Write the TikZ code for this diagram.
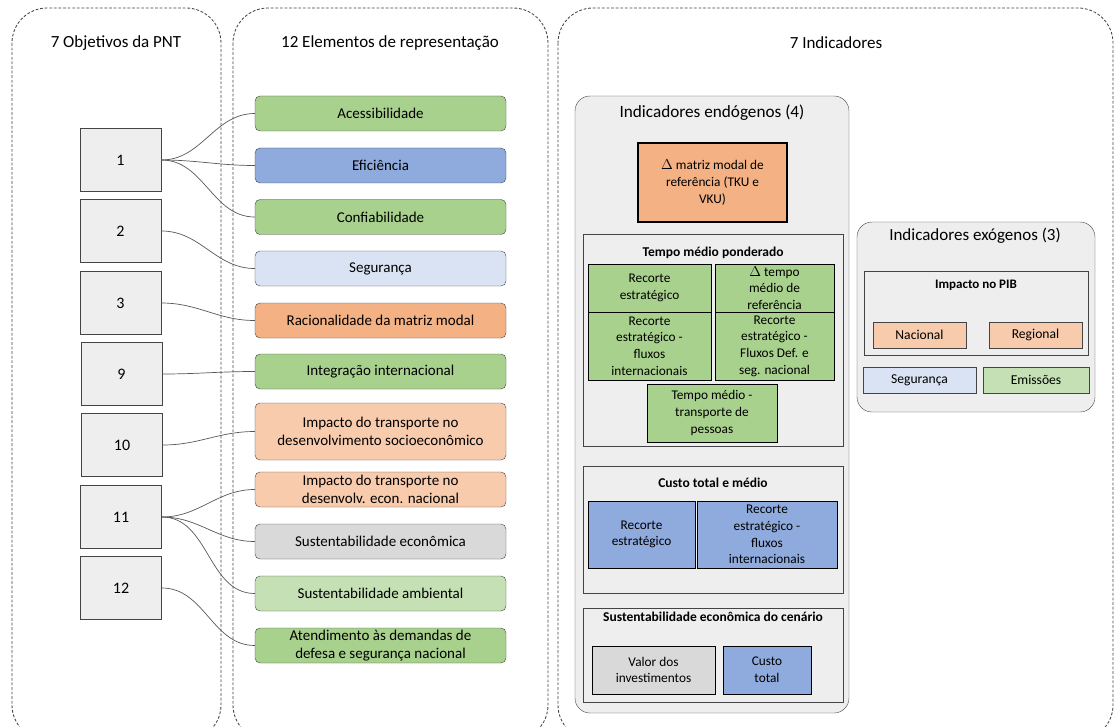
\documentclass[tikz,border=0pt]{standalone}
\usepackage{fontspec}
\setmainfont{Carlito}
\usetikzlibrary{positioning}
\definecolor{verde}{HTML}{A9D18E}
\definecolor{verdeclaro}{HTML}{C5E0B4}
\definecolor{azul}{HTML}{8FAADC}
\definecolor{azulclaro}{HTML}{DAE3F3}
\definecolor{laranja}{HTML}{F4B183}
\definecolor{laranjaclaro}{HTML}{F8CBAD}
\definecolor{cinza}{HTML}{D9D9D9}
\definecolor{painel}{HTML}{EEEEEE}
\definecolor{borda}{HTML}{444444}
\tikzset{
  grupo/.style={draw=borda, line width=0.85pt, dash pattern=on 2.8pt off 1.8pt, rounded corners=35pt},
  titulo/.style={font=\fontsize{17}{20}\selectfont},
  objbox/.style={draw=borda, fill=painel, line width=0.9pt, minimum width=81pt,
    minimum height=63pt, font=\fontsize{16}{19}\selectfont},
  elem/.style={draw=borda, rounded corners=5pt, minimum width=251pt, minimum height=35pt,
    inner sep=0pt, align=center, font=\fontsize{15}{18}\selectfont},
  painelbox/.style={draw=borda, fill=painel, rounded corners=15pt},
  quadro/.style={draw=borda, fill=painel},
  quadrotit/.style={font=\bfseries\fontsize{13.5}{16}\selectfont},
  cell/.style={draw=black, inner sep=0pt, align=center, font=\fontsize{13.3}{16.7}\selectfont},
  exo/.style={draw=borda, inner sep=0pt, minimum height=26pt, font=\fontsize{13.6}{16}\selectfont},
  link/.style={draw=borda!90, line width=0.7pt}
}
\begin{document}
\begin{tikzpicture}[x=1pt,y=-1pt]
  \useasboundingbox (0,0) rectangle (1115,727);
  \draw[grupo] (12,8) rectangle (221,740);
  \draw[grupo] (233,8) rectangle (548,740);
  \draw[grupo] (558,8) rectangle (1113,740);
  \node[titulo] (t1) at (116,43) {7 Objetivos da PNT};
  \node[titulo] (t2) at (390,43) {12 Elementos de representação};
  \node[titulo] (t3) at (836,43) {7 Indicadores};

  \node[objbox] (o1) at (120.5,160) {1};
  \node[objbox] (o2) at (120.5,231) {2};
  \node[objbox] (o3) at (120.5,303) {3};
  \node[objbox] (o9) at (121.5,374) {9};
  \node[objbox] (o10) at (122,445) {10};
  \node[objbox] (o11) at (121,517) {11};
  \node[objbox] (o12) at (121,588) {12};

  \node[elem, fill=verde] (e1) at (380.5,113.5) {Acessibilidade};
  \node[elem, fill=azul] (e2) at (380.5,165.5) {Eficiência};
  \node[elem, fill=verde] (e3) at (380.5,217) {Confiabilidade};
  \node[elem, fill=azulclaro] (e4) at (380.5,268.5) {Segurança};
  \node[elem, fill=laranja] (e5) at (380.5,320.5) {Racionalidade da matriz modal};
  \node[elem, fill=verde] (e6) at (380.5,371.5) {Integração internacional};
  \node[elem, fill=laranjaclaro, minimum height=57pt] (e7) at (380.5,431.5)
    {Impacto do transporte no\\desenvolvimento socioeconômico};
  \node[elem, fill=laranjaclaro] (e8) at (380.5,489.5)
    {Impacto do transporte no\\desenvolv. econ. nacional};
  \node[elem, fill=cinza] (e9) at (380.5,541.5) {Sustentabilidade econômica};
  \node[elem, fill=verdeclaro] (e10) at (380.5,593.5) {Sustentabilidade ambiental};
  \node[elem, fill=verde] (e11) at (380.5,645.5)
    {Atendimento às demandas de\\defesa e segurança nacional};

  \foreach \a/\b in {o1/e1,o1/e2,o1/e3,o2/e4,o3/e5,o9/e6,o10/e7,o11/e8,o11/e9,o11/e10,o12/e11}
    \draw[link] (\a.east) to[out=0,in=180] (\b.west);

  \node[painelbox, minimum width=274pt, minimum height=617pt] (endo) at (712,404.5) {};
  \node[font=\fontsize{17.2}{21}\selectfont] (endotit) at (712,113) {Indicadores endógenos (4)};
  \node[cell, fill=laranja, line width=1.4pt, minimum width=149pt, minimum height=79pt]
    (delta) at (712.5,182.5) {$\Delta$ matriz modal de\\referência (TKU e\\VKU)};

  \node[quadro, minimum width=260pt, minimum height=212pt] (tempo) at (713,340) {};
  \node[quadrotit] (tempotit) at (713,253) {Tempo médio ponderado};
  \node[cell, fill=verde, minimum width=123pt, minimum height=48pt] (c1) at (649.5,288)
    {Recorte\\estratégico};
  \node[cell, fill=verde, minimum width=119pt, minimum height=48pt] (c2) at (774.5,288)
    {$\Delta$ tempo\\médio de\\referência};
  \node[cell, fill=verde, minimum width=123pt, minimum height=68pt] (c3) at (649.5,346)
    {Recorte\\estratégico -\\fluxos\\internacionais};
  \node[cell, fill=verde, minimum width=119pt, minimum height=68pt] (c4) at (774.5,346)
    {Recorte\\estratégico -\\Fluxos Def. e\\seg. nacional};
  \node[cell, fill=verde, minimum width=130pt, minimum height=58pt] (c5) at (712,413)
    {Tempo médio -\\transporte de\\pessoas};

  \node[quadro, minimum width=260pt, minimum height=127pt] (custo) at (713,529.5) {};
  \node[quadrotit] (custotit) at (713,483) {Custo total e médio};
  \node[cell, fill=azul, minimum width=107pt, minimum height=67pt] (b1) at (641.5,534.5)
    {Recorte\\estratégico};
  \node[cell, fill=azul, minimum width=140pt, minimum height=67pt] (b2) at (767,534.5)
    {Recorte\\estratégico -\\fluxos\\internacionais};

  \node[quadro, minimum width=260pt, minimum height=94pt] (sust) at (713,655) {};
  \node[quadrotit] (susttit) at (713,617) {Sustentabilidade econômica do cenário};
  \node[cell, fill=cinza, minimum width=123pt, minimum height=48pt] (v1) at (653.5,670)
    {Valor dos\\investimentos};
  \node[cell, fill=azul, minimum width=88pt, minimum height=48pt] (v2) at (767,670)
    {Custo\\total};

  \node[painelbox, minimum width=238pt, minimum height=190pt] (exo) at (976,317) {};
  \node[font=\fontsize{17}{20}\selectfont] (exotit) at (975,236) {Indicadores exógenos (3)};
  \node[quadro, minimum width=224pt, minimum height=84pt] (pib) at (976,313) {};
  \node[quadrotit, font=\bfseries\fontsize{13}{16}\selectfont] (pibtit) at (976,285) {Impacto no PIB};
  \node[exo, fill=laranjaclaro, minimum width=93pt] (nac) at (919.5,335) {Nacional};
  \node[exo, fill=laranjaclaro, minimum width=93pt] (reg) at (1035.5,335) {Regional};
  \node[exo, fill=azulclaro, minimum width=113pt] (seg) at (919.5,380) {Segurança};
  \node[exo, fill=verdeclaro, minimum width=106pt] (emi) at (1036,380) {Emissões};
\end{tikzpicture}
\end{document}
